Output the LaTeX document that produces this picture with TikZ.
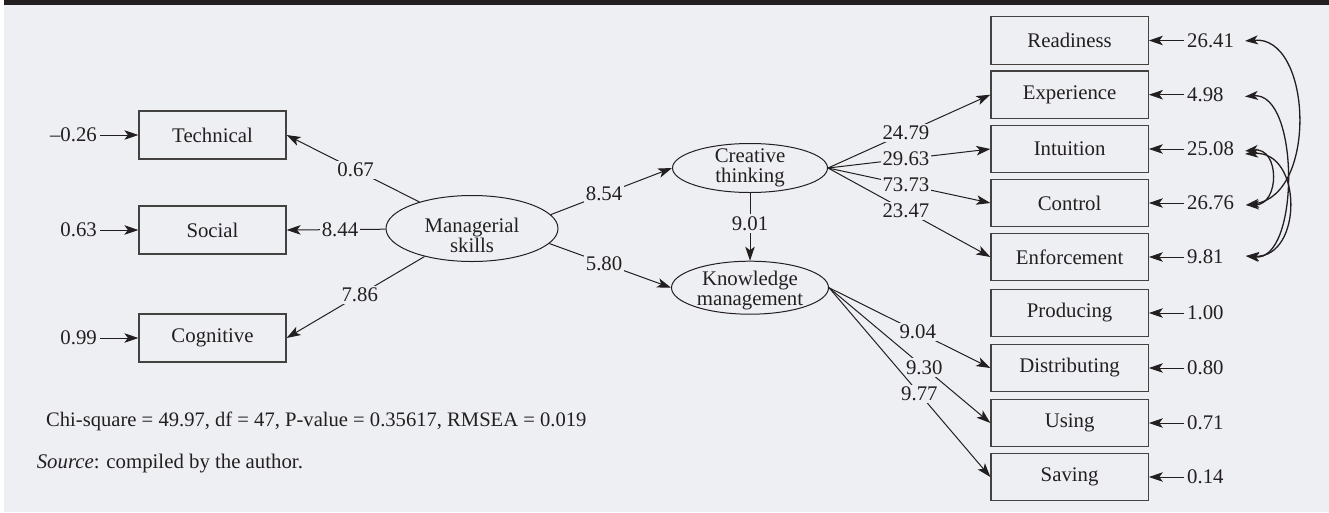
\documentclass[tikz,border=0pt]{standalone}
\usepackage{fontspec}
\setmainfont{Liberation Serif}
\usetikzlibrary{arrows.meta,shapes.geometric}
\definecolor{bg}{RGB}{238,239,243}
\definecolor{ink}{RGB}{35,31,32}
\begin{document}
\begin{tikzpicture}[x=1pt,y=-1pt,
  every node/.style={font=\fontsize{20.8}{20}\selectfont, text=ink},
  box/.style={draw=ink!85, line width=1.2pt, minimum width=147pt, minimum height=48pt, inner sep=0pt},
  rbox/.style={box, minimum width=157.3pt, minimum height=47.5pt},
  lat/.style={ellipse, draw=ink, line width=1pt, inner sep=0pt},
  lattext/.style={align=center, inner sep=0pt},
  arr/.style={draw=ink, line width=1pt, -{Stealth[length=14pt,width=9.5pt,inset=3.5pt]}},
  cov/.style={draw=ink, line width=1.3pt, {Stealth[length=13pt,width=9pt,inset=3.5pt]}-{Stealth[length=13pt,width=9pt,inset=3.5pt]}},
  lab/.style={fill=bg, inner sep=2pt},
  err/.style={inner sep=3pt}
]
\fill[white] (0,0) rectangle (1329,512);
\fill[bg] (4,0) rectangle (1329,512);
\fill[ink] (4,0) rectangle (1329,5);
\useasboundingbox (0,0) rectangle (1329,512);

% left indicators
\node[box] (tech) at (212.5,135) {Technical};
\node[box] (soc) at (212.5,230) {Social};
\node[box] (cog) at (212.5,338) {Cognitive};
\node[err, anchor=east] (e1) at (100,135) {–0.26};
\node[err, anchor=east] (e2) at (100,230) {0.63};
\node[err, anchor=east] (e3) at (100,338) {0.99};
\draw[arr] (e1) -- (tech);
\draw[arr] (e2) -- (soc);
\draw[arr] (e3) -- (cog);

% latent variables
\node[lat, minimum width=172pt, minimum height=66pt] (ms) at (472,228.5) {};
\node[lattext] (mst) at (472,235) {Managerial\\skills};
\node[lat, minimum width=155pt, minimum height=49pt] (ct) at (750,168) {};
\node[lattext] (ctt) at (750,168) {Creative\\thinking};
\node[lat, minimum width=157pt, minimum height=53pt] (km) at (750,287.7) {};
\node[lattext] (kmt) at (750,290.5) {Knowledge\\management};

\draw[arr] (ms) -- node[lab,pos=0.48]{0.67} (tech.east);
\draw[arr] (ms) -- node[lab,pos=0.46]{8.44} (soc.east);
\draw[arr] (ms) -- node[lab,pos=0.47]{7.86} (cog.east);
\draw[arr] (ms.10) -- node[lab,pos=0.44]{8.54} (ct.west);
\draw[arr] (ms.-11) -- node[lab,pos=0.45]{5.80} (km.west);
\draw[arr] (ct) -- node[lab,pos=0.45]{9.01} (km);

% right indicators
\node[rbox] (rea) at (1069.6,40.5) {Readiness};
\node[rbox] (exp) at (1069.6,94.7) {Experience};
\node[rbox] (int) at (1069.6,149) {Intuition};
\node[rbox] (con) at (1069.6,203) {Control};
\node[rbox] (enf) at (1069.6,257) {Enforcement};
\node[rbox] (pro) at (1069.6,313) {Producing};
\node[rbox] (dis) at (1069.6,368) {Distributing};
\node[rbox] (usi) at (1069.6,423) {Using};
\node[rbox] (sav) at (1069.6,477) {Saving};

\node[err, anchor=west] (r1) at (1184,40.5) {26.41};
\node[err, anchor=west] (r2) at (1184,94.7) {4.98};
\node[err, anchor=west] (r3) at (1184,149) {25.08};
\node[err, anchor=west] (r4) at (1184,203) {26.76};
\node[err, anchor=west] (r5) at (1184,257) {9.81};
\node[err, anchor=west] (r6) at (1184,313) {1.00};
\node[err, anchor=west] (r7) at (1184,368) {0.80};
\node[err, anchor=west] (r8) at (1184,423) {0.71};
\node[err, anchor=west] (r9) at (1184,477) {0.14};
\foreach \e/\b in {r1/rea,r2/exp,r3/int,r4/con,r5/enf,r6/pro,r7/dis,r8/usi,r9/sav}
  \draw[arr] (\e) -- (\b);

\draw[arr] (ct.east) -- node[lab,pos=0.48]{24.79} (exp.west);
\draw[arr] (ct.east) -- node[lab,pos=0.48]{29.63} (int.west);
\draw[arr] (ct.east) -- node[lab,pos=0.48]{73.73} (con.west);
\draw[arr] (ct.east) -- node[lab,pos=0.48]{23.47} (enf.west);

\draw[arr] (km.east) -- node[lab,pos=0.55]{9.04} (dis.west);
\draw[arr] (km.east) -- node[lab,pos=0.59]{9.30} (usi.west);
\draw[arr] (km.east) -- node[lab,pos=0.56]{9.77} (sav.west);

% covariances
\coordinate (cR) at (1245,41);
\coordinate (cE) at (1245,96.5);
\coordinate (cI1) at (1245,151);
\coordinate (cI2) at (1245,154);
\coordinate (cC) at (1246,205);
\coordinate (cF) at (1246,256);
\draw[cov] (cR) .. controls (1312,35) and (1318,195) .. (cC);
\draw[cov] (cE) .. controls (1300,92) and (1300,262) .. (cF);
\draw[cov] (cI1) .. controls (1280,147) and (1280,205) .. (cC);
\draw[cov] (cI2) .. controls (1303,150) and (1303,258) .. (cF);

% notes
\node[anchor=base west, inner sep=0pt, font=\fontsize{20.6}{22}\selectfont] (fit) at (46,426) {Chi-square = 49.97, df = 47, P-value = 0.35617, RMSEA = 0.019};
\node[anchor=base west, inner sep=0pt] (src) at (36.6,468) {\textit{Source}: compiled by the author.};
\end{tikzpicture}
\end{document}
